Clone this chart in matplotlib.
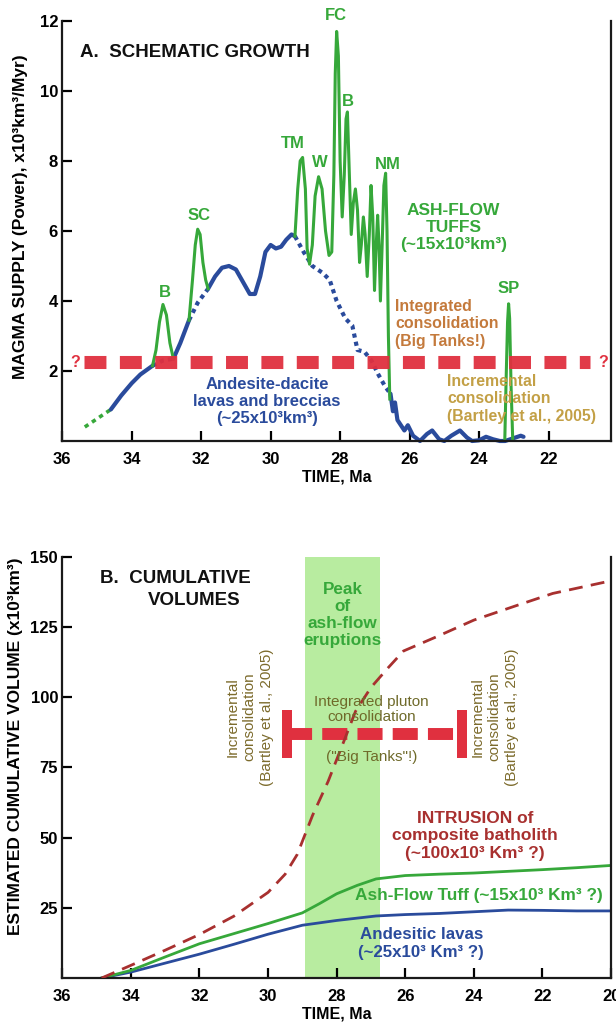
import matplotlib
matplotlib.use("Agg")
import matplotlib.pyplot as plt

plt.rcParams['font.family'] = ['Liberation Sans', 'DejaVu Sans']

# ---------------- panel A data (Ma, 10^3 km^3/Myr) ----------------
green_dot_x = [35.35, 34.6]
green_dot_y = [0.4, 0.9]

blue_solid1_x = [34.6, 34.3, 34.0, 33.75, 33.4]
blue_solid1_y = [0.9, 1.3, 1.65, 1.9, 2.15]
blue_dot1_x = [33.4, 33.1, 32.8]
blue_dot1_y = [2.15, 2.3, 2.35]
blue_solid2_x = [32.8, 32.6, 32.35]
blue_solid2_y = [2.35, 2.8, 3.45]
blue_dot2_x = [32.35, 32.1, 31.8]
blue_dot2_y = [3.45, 3.95, 4.35]
blue_solid3_x = [31.8, 31.6, 31.4, 31.2, 31.0, 30.8, 30.6, 30.45, 30.3, 30.15,
                 30.0, 29.85, 29.7, 29.55, 29.4, 29.3]
blue_solid3_y = [4.35, 4.7, 4.95, 5.0, 4.9, 4.55, 4.2, 4.2, 4.7, 5.4,
                 5.6, 5.5, 5.55, 5.75, 5.9, 5.85]
blue_dot3_x = [29.3, 29.05, 28.8, 28.5, 28.3, 28.1, 27.85, 27.65, 27.5, 27.3,
               27.1, 26.9, 26.7, 26.55]
blue_dot3_y = [5.85, 5.4, 5.0, 4.8, 4.6, 4.0, 3.5, 3.3, 2.6, 2.55,
               2.3, 1.9, 1.55, 1.35]
blue_solid4_x = [26.55, 26.48, 26.42, 26.35, 26.25, 26.15, 26.05, 25.9, 25.7,
                 25.5, 25.35, 25.15, 25.0, 24.8, 24.55, 24.35, 24.2, 24.0,
                 23.8, 23.6, 23.4, 23.25, 23.1, 22.95, 22.8, 22.72]
blue_solid4_y = [1.35, 0.85, 1.1, 0.6, 0.45, 0.3, 0.45, 0.15, 0.0,
                 0.2, 0.3, 0.05, 0.0, 0.15, 0.3, 0.1, 0.0, 0.02,
                 0.12, 0.05, 0.0, 0.0, 0.05, 0.1, 0.15, 0.12]

green_a_x = [33.4, 33.3, 33.2, 33.1, 33.0, 32.9, 32.8]
green_a_y = [2.15, 2.6, 3.4, 3.9, 3.6, 2.8, 2.35]
green_b_x = [32.35, 32.25, 32.17, 32.1, 32.03, 31.95, 31.87, 31.8]
green_b_y = [3.45, 4.6, 5.6, 6.05, 5.9, 5.1, 4.6, 4.35]
green_c_x = [29.3, 29.22, 29.15, 29.08, 29.0, 28.95, 28.88, 28.8, 28.72,
             28.62, 28.52, 28.42, 28.32, 28.24, 28.18, 28.14, 28.1, 28.05,
             28.0, 27.94, 27.88, 27.83, 27.79, 27.74, 27.68, 27.62, 27.56,
             27.5, 27.44, 27.39, 27.33, 27.28, 27.22, 27.16, 27.11, 27.06,
             27.01, 26.97, 26.92, 26.88, 26.84, 26.79, 26.74, 26.69, 26.65,
             26.61, 26.57]
green_c_y = [5.85, 7.2, 8.0, 8.1, 7.2, 5.5, 5.05, 5.6, 7.0,
             7.55, 7.2, 6.0, 5.3, 5.4, 7.6, 10.5, 11.7, 11.0,
             8.0, 6.4, 7.6, 9.2, 9.4, 7.8, 5.9, 6.8, 7.2,
             6.6, 5.1, 5.6, 6.4, 5.9, 4.7, 5.9, 7.3, 6.4,
             4.3, 5.4, 6.45, 5.6, 4.0, 5.6, 7.3, 7.65, 6.0,
             3.0, 1.2]
green_d_x = [23.26, 23.22, 23.18, 23.15, 23.12, 23.08, 23.03]
green_d_y = [0.0, 1.8, 3.4, 3.92, 3.5, 1.6, 0.0]

peak_labels = ['B', 'SC', 'TM', 'W', 'FC', 'B', 'NM', 'SP']
peak_x = [33.05, 32.06, 29.37, 28.57, 28.11, 27.77, 26.63, 23.14]
peak_y = [4.25, 6.45, 8.5, 7.95, 12.15, 9.7, 7.9, 4.35]

threshold_a = 2.25

# ---------------- panel B data (Ma, 10^3 km^3) ----------------
intrusion_x = [34.85, 34.0, 33.0, 32.0, 31.0, 30.0, 29.5, 29.15, 28.7, 28.25,
               27.8, 27.45, 27.0, 26.5, 26.05, 25.1, 24.0, 22.8, 21.7, 20.0]
intrusion_y = [0.0, 4.5, 9.9, 15.5, 22.0, 30.5, 37.0, 44.0, 58.0, 70.0,
               84.0, 95.0, 103.5, 110.5, 116.5, 121.5, 127.5, 132.5, 137.0, 141.5]
tuff_x = [34.85, 34.0, 33.0, 32.0, 31.0, 30.0, 29.0, 28.5, 28.0, 27.4, 26.85,
          26.0, 25.0, 24.0, 23.0, 22.0, 21.0, 20.0]
tuff_y = [0.0, 2.7, 7.5, 12.2, 15.8, 19.4, 23.2, 26.5, 30.0, 33.0, 35.3,
          36.5, 37.0, 37.4, 38.0, 38.6, 39.3, 40.1]
lavas_x = [34.85, 34.0, 33.0, 32.0, 31.0, 30.0, 29.0, 28.0, 26.85, 26.0,
           25.0, 24.0, 23.0, 22.0, 21.0, 20.0]
lavas_y = [0.0, 2.1, 5.3, 8.5, 12.0, 15.6, 18.8, 20.5, 22.1, 22.6,
           23.0, 23.6, 24.2, 24.1, 23.9, 23.9]

peak_band = (28.92, 26.74)
bar_x = (29.45, 24.36)
bar_y = 86.8
bar_half = 8.5

c_green = '#36a83a'
c_blue = '#2a4b9c'
c_red = '#e0303f'
c_dred = '#a8302f'
c_orange = '#c47a3c'
c_gold = '#c3a046'
c_olive = '#7c6b2c'

fig = plt.figure(figsize=(6.16, 10.27), dpi=100)


def style_axes(ax):
    ax.spines['top'].set_visible(False)
    for s in ['left', 'right', 'bottom']:
        ax.spines[s].set_linewidth(1.6)
        ax.spines[s].set_color('#1a1a1a')
    ax.tick_params(direction='in', length=7, width=1.6, labelsize=12,
                   top=False, right=False)
    ax.tick_params(axis='x', pad=8)
    ax.tick_params(axis='y', pad=3)
    for lab in ax.get_xticklabels() + ax.get_yticklabels():
        lab.set_fontweight('bold')


# ================= A. SCHEMATIC GROWTH =================
ax1 = fig.add_axes([0.101, 0.5706, 0.891, 0.409])
ax1.set_xlim(36, 20.2)
ax1.set_ylim(0, 12)
ax1.set_xticks([36, 34, 32, 30, 28, 26, 24, 22])
ax1.set_yticks([2, 4, 6, 8, 10, 12])
style_axes(ax1)

ax1.plot(green_dot_x, green_dot_y, color=c_green, lw=2.6, ls=(0, (1.2, 1.2)))
for xs, ys, ls in [(blue_solid1_x, blue_solid1_y, '-'),
                   (blue_dot1_x, blue_dot1_y, (0, (1.0, 1.0))),
                   (blue_solid2_x, blue_solid2_y, '-'),
                   (blue_dot2_x, blue_dot2_y, (0, (1.0, 1.0))),
                   (blue_solid3_x, blue_solid3_y, '-'),
                   (blue_dot3_x, blue_dot3_y, (0, (1.0, 1.0))),
                   (blue_solid4_x, blue_solid4_y, '-')]:
    ax1.plot(xs, ys, color=c_blue, lw=3.0, ls=ls, solid_joinstyle='round',
             solid_capstyle='round', clip_on=False)
for xs, ys in [(green_a_x, green_a_y), (green_b_x, green_b_y),
               (green_c_x, green_c_y), (green_d_x, green_d_y)]:
    ax1.plot(xs, ys, color=c_green, lw=2.2, solid_joinstyle='round')

ax1.plot([35.37, 20.8], [threshold_a, threshold_a], color=c_red, lw=9.4,
         dashes=(1.68, 1.03), solid_capstyle='butt', dash_capstyle='butt',
         alpha=0.95)
ax1.text(35.62, threshold_a, '?', color=c_red, fontsize=11.5, fontweight='bold',
         ha='center', va='center')
ax1.text(20.42, threshold_a, '?', color=c_red, fontsize=11.5, fontweight='bold',
         ha='center', va='center')

for lab, px, py in zip(peak_labels, peak_x, peak_y):
    ax1.text(px, py, lab, color=c_green, fontsize=12, fontweight='bold',
             ha='center', va='center', clip_on=False)

ax1.text(35.5, 11.1, 'A.  SCHEMATIC GROWTH', fontsize=13.5, fontweight='bold',
         color='#111111', ha='left', va='center')
ax1.text(24.74, 6.1, 'ASH-FLOW\nTUFFS\n(~15x10³km³)', color=c_green,
         fontsize=12.5, fontweight='bold', ha='center', va='center',
         linespacing=1.2)
ax1.text(26.42, 3.35, 'Integrated\nconsolidation\n(Big Tanks!)', color=c_orange,
         fontsize=11.4, fontweight='bold', ha='left', va='center',
         linespacing=1.2)
ax1.text(24.92, 1.2, 'Incremental\nconsolidation\n(Bartley et al., 2005)',
         color=c_gold, fontsize=11.4, fontweight='bold', ha='left', va='center',
         linespacing=1.2)
ax1.text(30.1, 1.13, 'Andesite-dacite\nlavas and breccias\n(~25x10³km³)',
         color=c_blue, fontsize=12, fontweight='bold', ha='center',
         va='center', linespacing=1.2)

ax1.set_xlabel('TIME, Ma', fontsize=11.5, fontweight='bold', labelpad=2)
ax1.set_ylabel('MAGMA SUPPLY (Power), x10³km³/Myr)', fontsize=12.5,
               fontweight='bold')
ax1.yaxis.set_label_coords(-0.062, 0.535)

# ================= B. CUMULATIVE VOLUMES =================
ax2 = fig.add_axes([0.101, 0.0477, 0.891, 0.410])
ax2.set_xlim(36, 20)
ax2.set_ylim(0, 150)
ax2.set_xticks([36, 34, 32, 30, 28, 26, 24, 22, 20])
ax2.set_yticks([25, 50, 75, 100, 125, 150])
style_axes(ax2)

ax2.axvspan(peak_band[0], peak_band[1], color='#ace990', alpha=0.85, lw=0,
            zorder=0)

ax2.plot(lavas_x, lavas_y, color=c_blue, lw=2.0)
ax2.plot(tuff_x, tuff_y, color=c_green, lw=2.0)

ax2.plot([bar_x[0], bar_x[1]], [bar_y, bar_y], color=c_red, lw=8.6,
         dashes=(2.1, 0.85), dash_capstyle='butt', solid_capstyle='butt',
         zorder=3)
for bx in bar_x:
    ax2.plot([bx, bx], [bar_y - bar_half, bar_y + bar_half], color=c_red,
             lw=7.2, solid_capstyle='butt', zorder=3)

ax2.plot(intrusion_x, intrusion_y, color=c_dred, lw=2.0, dashes=(5, 3),
         zorder=4)

narrow = ['Liberation Sans Narrow', 'Liberation Sans', 'DejaVu Sans']
ax2.text(30.53, 93, 'Incremental\nconsolidation\n(Bartley et al., 2005)',
         rotation=90, color=c_olive, fontsize=11, family=narrow,
         ha='center', va='center', linespacing=1.3)
ax2.text(23.4, 93, 'Incremental\nconsolidation\n(Bartley et al., 2005)',
         rotation=90, color=c_olive, fontsize=11, family=narrow,
         ha='center', va='center', linespacing=1.3)
ax2.text(26.98, 95.7, 'Integrated pluton\nconsolidation', color='#6f6a2a',
         fontsize=11, family=narrow, ha='center', va='center',
         linespacing=1.1, zorder=5)
ax2.text(26.98, 78.6, '("Big Tanks"!)', color='#6f6a2a', fontsize=11,
         family=narrow, ha='center', va='center', zorder=5)

ax2.text(34.9, 142.3, 'B.  CUMULATIVE', fontsize=13.5, fontweight='bold',
         color='#111111', ha='left', va='center')
ax2.text(32.15, 134.5, 'VOLUMES', fontsize=13.5, fontweight='bold',
         color='#111111', ha='center', va='center')
ax2.text(27.83, 129.3, 'Peak\nof\nash-flow\neruptions', color=c_green,
         fontsize=12.3, fontweight='bold', ha='center', va='center',
         linespacing=1.15)
ax2.text(23.97, 50.7, 'INTRUSION of\ncomposite batholith\n(~100x10³ Km³ ?)',
         color=c_dred, fontsize=12.5, fontweight='bold', ha='center',
         va='center', linespacing=1.2)
ax2.text(23.86, 29.5, 'Ash-Flow Tuff (~15x10³ Km³ ?)', color=c_green,
         fontsize=12.4, fontweight='bold', ha='center', va='center')
ax2.text(25.53, 12.3, 'Andesitic lavas\n(~25x10³ Km³ ?)', color=c_blue,
         fontsize=12.2, fontweight='bold', ha='center', va='center',
         linespacing=1.2)

ax2.set_xlabel('TIME, Ma', fontsize=11.5, fontweight='bold', labelpad=2)
ax2.set_ylabel('ESTIMATED CUMULATIVE VOLUME (x10³km³)', fontsize=12.5,
               fontweight='bold')
ax2.yaxis.set_label_coords(-0.071, 0.55)

fig.savefig('out.png', dpi=100)
